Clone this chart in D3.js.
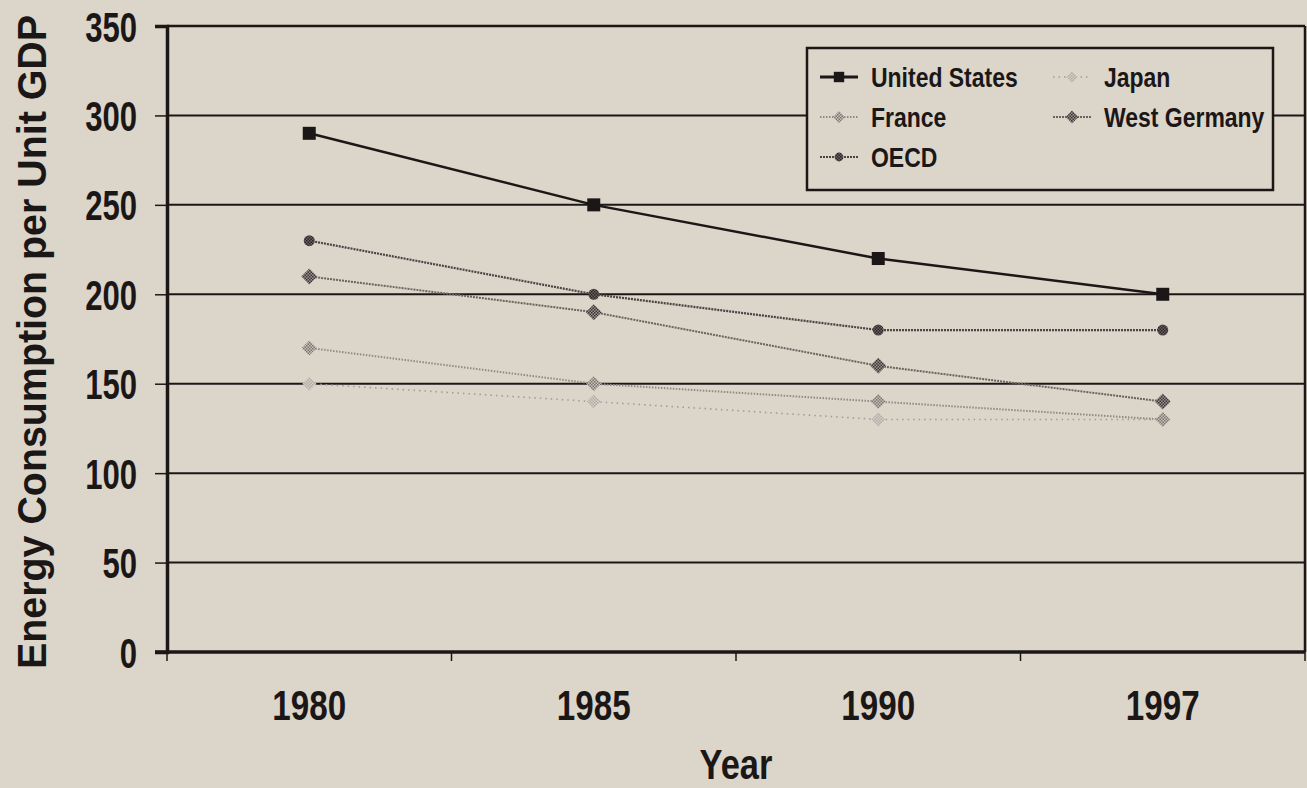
<!DOCTYPE html>
<html>
<head>
<meta charset="utf-8">
<script src="https://cdn.jsdelivr.net/npm/d3@7"></script>
<style>
  html, body { margin: 0; padding: 0; background: #dcd5c9; }
  svg { display: block; }
  text { font-family: "Liberation Sans Narrow", "Arial Narrow", "Liberation Sans", sans-serif; font-weight: bold; fill: #1c1717; }
</style>
</head>
<body>
<svg id="chart" width="1307" height="788"></svg>
<script>
// Energy consumption per unit of GDP, selected economies
const years = ["1980", "1985", "1990", "1997"];
const yTicks = [0, 50, 100, 150, 200, 250, 300, 350];

const unitedStates = [290, 250, 220, 200];
const japan        = [150, 140, 130, 130];
const france       = [170, 150, 140, 130];
const westGermany  = [210, 190, 160, 140];
const oecd         = [230, 200, 180, 180];

const seriesNames = ["United States", "Japan", "France", "West Germany", "OECD"];

(function () {
const W = 1307, H = 788;
const plotL = 167, plotR = 1305, plotT = 26, plotB = 652;
const ink = "#1c1717";

const svg = d3.select("#chart");
svg.append("rect").attr("width", W).attr("height", H).attr("fill", "#dcd5c9");

// squeeze text horizontally to get a condensed face, keeping its anchor point
function condense(sel, factor) {
  sel.each(function () {
    const len = this.getComputedTextLength();
    const anchor = getComputedStyle(this).textAnchor;
    const x0 = +this.getAttribute("x") || 0;
    const w = len * factor;
    const shift = anchor === "end" ? w : anchor === "middle" ? w / 2 : 0;
    d3.select(this).attr("text-anchor", "start").attr("x", x0 - shift)
      .attr("textLength", w).attr("lengthAdjust", "spacingAndGlyphs");
  });
}

// halftone fills for the grey markers
const defs = svg.append("defs");
function halftone(id, bg, dot) {
  const p = defs.append("pattern").attr("id", id).attr("patternUnits", "userSpaceOnUse")
    .attr("width", 3).attr("height", 3);
  p.append("rect").attr("width", 3).attr("height", 3).attr("fill", bg);
  p.append("rect").attr("x", 0).attr("y", 0).attr("width", 1.5).attr("height", 1.5).attr("fill", dot);
  p.append("rect").attr("x", 1.5).attr("y", 1.5).attr("width", 1.5).attr("height", 1.5).attr("fill", dot);
}
halftone("ht-oecd", "#6a6464", "#2a2424");
halftone("ht-wg", "#9a9490", "#3a3434");
halftone("ht-fr", "#c8c2ba", "#7a746e");
halftone("ht-jp", "#d6d0c8", "#b0aaa4");

const x = d3.scaleBand().domain(years).range([plotL, plotR]);
const y = d3.scaleLinear().domain([0, 350]).range([plotB, plotT]);

// horizontal gridlines
svg.append("g").selectAll("line").data(yTicks.filter(d => d > 0 && d < 350)).join("line")
  .attr("x1", plotL).attr("x2", plotR)
  .attr("y1", d => y(d)).attr("y2", d => y(d))
  .attr("stroke", ink).attr("stroke-width", 2);

// plot frame
svg.append("line").attr("x1", plotL).attr("x2", plotR).attr("y1", plotT).attr("y2", plotT)
  .attr("stroke", ink).attr("stroke-width", 2.5);
svg.append("line").attr("x1", plotR).attr("x2", plotR).attr("y1", plotT).attr("y2", plotB)
  .attr("stroke", ink).attr("stroke-width", 2.5);

// y axis
const yAxis = svg.append("g").attr("transform", `translate(${plotL},0)`)
  .call(d3.axisLeft(y).tickValues(yTicks).tickSize(12).tickPadding(18).tickFormat(d3.format("d")));
yAxis.select(".domain").attr("stroke", ink).attr("stroke-width", 3.5);
yAxis.selectAll(".tick line").attr("stroke", ink).attr("stroke-width", 1.5);
yAxis.selectAll(".tick text").attr("font-size", 42).attr("fill", ink)
  .attr("font-family", null).attr("dy", "0.36em");
condense(yAxis.selectAll(".tick text"), 0.74);

// x axis: labels centred in bands, ticks on band boundaries
const xAxis = svg.append("g").attr("transform", `translate(0,${plotB})`)
  .call(d3.axisBottom(x).tickSize(0).tickPadding(38));
xAxis.select(".domain").remove();
xAxis.selectAll(".tick text").attr("font-size", 42).attr("fill", ink).attr("font-family", null);
condense(xAxis.selectAll(".tick text"), 0.79);
const bounds = years.map(d => x(d)).concat([x(years[years.length - 1]) + x.bandwidth()]);
svg.append("g").selectAll("line").data(bounds).join("line")
  .attr("x1", d => d).attr("x2", d => d).attr("y1", plotB).attr("y2", plotB + 9)
  .attr("stroke", ink).attr("stroke-width", 1.5);
svg.append("line").attr("x1", plotL - 12).attr("x2", plotR).attr("y1", plotB).attr("y2", plotB)
  .attr("stroke", ink).attr("stroke-width", 3.5);

// axis titles
const xTitle = svg.append("text").attr("x", 736).attr("y", 779).attr("text-anchor", "middle")
  .attr("font-size", 42).text("Year");
condense(xTitle, 0.82);
svg.append("text").attr("transform", "translate(46,342) rotate(-90)")
  .attr("text-anchor", "middle").attr("font-size", 40)
  .attr("textLength", 654).attr("lengthAdjust", "spacingAndGlyphs")
  .text("Energy Consumption per Unit GDP");

// series styles
const styles = {
  "United States": { values: unitedStates, stroke: ink, width: 2.5, dash: null, shape: "square", fill: ink, size: 13 },
  "Japan":         { values: japan, stroke: "#a29c95", width: 1.6, dash: "1.5,4", shape: "diamond", fill: "url(#ht-jp)", size: 14 },
  "France":        { values: france, stroke: "#908a84", width: 2, dash: "1.5,1.5", shape: "diamond", fill: "url(#ht-fr)", size: 15 },
  "West Germany":  { values: westGermany, stroke: "#6a6460", width: 2, dash: "2,1", shape: "diamond", fill: "url(#ht-wg)", size: 16 },
  "OECD":          { values: oecd, stroke: "#4a4444", width: 2.2, dash: "2,1", shape: "circle", fill: "url(#ht-oecd)", size: 11 }
};

function drawMarker(g, s, cx, cy) {
  if (s.shape === "square") {
    g.append("rect").attr("x", cx - s.size / 2).attr("y", cy - s.size / 2)
      .attr("width", s.size).attr("height", s.size).attr("fill", s.fill);
  } else if (s.shape === "circle") {
    g.append("circle").attr("cx", cx).attr("cy", cy).attr("r", s.size / 2).attr("fill", s.fill);
  } else {
    const r = s.size / 2;
    g.append("path").attr("d", `M${cx},${cy - r}L${cx + r},${cy}L${cx},${cy + r}L${cx - r},${cy}Z`)
      .attr("fill", s.fill);
  }
}

const bandCenter = d => x(d) + x.bandwidth() / 2;
const drawOrder = ["Japan", "France", "West Germany", "OECD", "United States"];
drawOrder.forEach(name => {
  const s = styles[name];
  const pts = years.map((yr, i) => [bandCenter(yr), y(s.values[i])]);
  const g = svg.append("g");
  g.append("path").attr("d", d3.line()(pts)).attr("fill", "none")
    .attr("stroke", s.stroke).attr("stroke-width", s.width)
    .attr("stroke-dasharray", s.dash);
  pts.forEach(p => drawMarker(g, s, p[0], p[1]));
});

// legend
const lg = svg.append("g");
lg.append("rect").attr("x", 807).attr("y", 48).attr("width", 466).attr("height", 142)
  .attr("fill", "#dcd5c9").attr("stroke", ink).attr("stroke-width", 2.5);
const legendPos = {
  "United States": [839, 77], "Japan": [1072, 77],
  "France": [839, 117], "West Germany": [1072, 117],
  "OECD": [839, 157]
};
seriesNames.forEach(name => {
  const s = styles[name];
  const [mx, my] = legendPos[name];
  const g = lg.append("g");
  g.append("line").attr("x1", mx - 19).attr("x2", mx + 19).attr("y1", my).attr("y2", my)
    .attr("stroke", s.stroke).attr("stroke-width", name === "United States" ? 3 : s.width)
    .attr("stroke-dasharray", s.dash);
  drawMarker(g, Object.assign({}, s, { size: s.size * 0.8 }), mx, my);
  const t = g.append("text").attr("x", mx + 32).attr("y", my).attr("dy", "0.36em")
    .attr("font-size", 28).text(name);
  condense(t, 0.82);
});
})();
</script>
</body>
</html>
